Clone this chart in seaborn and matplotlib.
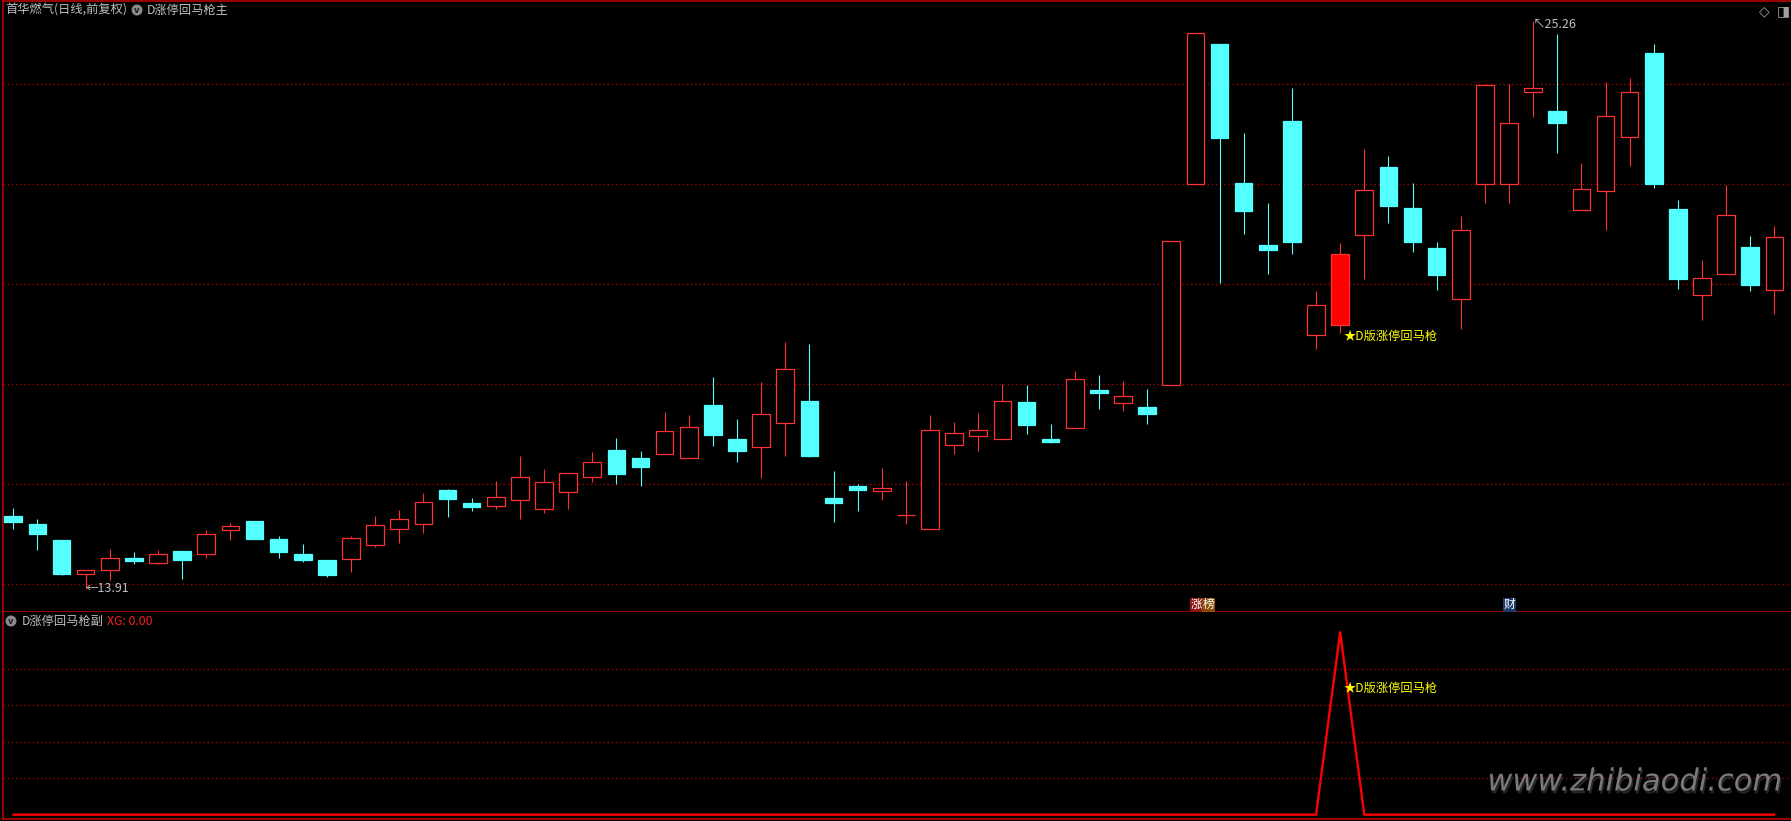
# -*- coding: utf-8 -*-
"""
Daily candlestick chart (首华燃气) with the D涨停回马枪 signal panel underneath.
"""

import numpy as np
import pandas as pd
import matplotlib
matplotlib.use("Agg")
import matplotlib.pyplot as plt
import matplotlib.patheffects as pe
from matplotlib.patches import Ellipse
import seaborn as sns

W, H = 1791, 821

# daily OHLC (74 sessions)
OPEN = [15.37, 15.21, 14.89, 14.21, 14.28, 14.53, 14.43, 14.67, 14.60, 15.08,
        15.27, 14.91, 14.61, 14.49, 14.50, 14.79, 15.11, 15.20, 15.89, 15.63,
        15.56, 15.68, 15.50, 15.85, 16.14, 16.69, 16.53, 16.60, 16.52, 17.59,
        16.91, 16.74, 17.22, 17.67, 15.73, 15.97, 15.87, 15.38, 15.11, 16.79,
        16.97, 16.91, 17.65, 16.91, 17.13, 17.89, 17.63, 17.55, 17.98, 22.00,
        24.79, 22.01, 20.77, 23.25, 18.99, 19.19, 20.97, 22.33, 21.51, 20.73,
        19.71, 21.99, 21.99, 23.84, 23.45, 21.48, 21.86, 22.94, 24.61, 21.49,
        19.78, 20.20, 20.75, 19.88]
HIGH = [15.53, 15.31, 14.89, 14.29, 14.71, 14.65, 14.69, 14.67, 15.09, 15.23,
        15.27, 14.97, 14.81, 14.49, 14.97, 15.37, 15.49, 15.83, 15.91, 15.73,
        16.07, 16.57, 16.31, 16.22, 16.65, 16.93, 16.67, 17.45, 17.39, 18.15,
        17.31, 18.05, 18.85, 18.81, 16.27, 16.01, 16.33, 16.07, 17.39, 17.25,
        17.43, 18.00, 17.99, 17.21, 18.27, 18.19, 18.07, 17.91, 20.86, 25.02,
        24.79, 23.01, 21.61, 23.91, 19.87, 20.81, 22.69, 22.55, 22.01, 20.83,
        21.35, 23.99, 23.99, 25.26, 24.99, 22.41, 24.03, 24.11, 24.80, 21.67,
        20.49, 21.97, 20.95, 21.15]
LOW = [15.11, 14.69, 14.19, 13.91, 14.09, 14.41, 14.41, 14.11, 14.53, 14.89,
       14.91, 14.53, 14.45, 14.15, 14.25, 14.75, 14.83, 15.03, 15.35, 15.47,
       15.51, 15.31, 15.43, 15.51, 16.05, 16.01, 15.97, 16.60, 16.52, 16.77,
       16.45, 16.13, 16.57, 16.55, 15.25, 15.47, 15.69, 15.21, 15.11, 16.61,
       16.67, 16.91, 17.01, 16.83, 17.13, 17.51, 17.47, 17.21, 17.98, 22.00,
       20.03, 20.99, 20.21, 20.61, 18.71, 19.03, 20.11, 21.21, 20.65, 19.89,
       19.11, 21.61, 21.61, 23.33, 22.61, 21.48, 21.07, 22.35, 21.91, 19.91,
       19.29, 20.20, 19.87, 19.41]
CLOSE = [15.25, 15.01, 14.21, 14.29, 14.52, 14.47, 14.60, 14.49, 15.00, 15.16,
         14.91, 14.65, 14.49, 14.19, 14.92, 15.18, 15.30, 15.64, 15.71, 15.55,
         15.74, 16.14, 16.04, 16.22, 16.44, 16.21, 16.35, 17.06, 17.14, 16.99,
         16.67, 17.40, 18.30, 16.57, 15.63, 15.89, 15.92, 15.38, 17.08, 17.02,
         17.08, 17.66, 17.19, 16.85, 18.10, 17.83, 17.76, 17.41, 20.86, 25.02,
         22.91, 21.45, 20.69, 20.83, 19.58, 20.61, 21.88, 21.55, 20.83, 20.19,
         21.08, 23.97, 23.22, 23.92, 23.21, 21.90, 23.36, 23.84, 21.99, 20.11,
         20.12, 21.38, 19.99, 20.94]
# XG signal of the sub-indicator
XG = [0, 0, 0, 0, 0, 0, 0, 0, 0, 0, 0, 0, 0, 0, 0, 0, 0, 0, 0, 0,
      0, 0, 0, 0, 0, 0, 0, 0, 0, 0, 0, 0, 0, 0, 0, 0, 0, 0, 0, 0,
      0, 0, 0, 0, 0, 0, 0, 0, 0, 0, 0, 0, 0, 0, 0, 1, 0, 0, 0, 0,
      0, 0, 0, 0, 0, 0, 0, 0, 0, 0, 0, 0, 0, 0]

PRICE_GRID = [14, 16, 18, 20, 22, 24]
XG_GRID = [0.2, 0.4, 0.6, 0.8]

UP = "#ff3232"
DOWN = "#54ffff"
GRID = "#a00000"
FRAME = "#c80000"
LABEL = "#c0c0c0"
YELLOW = "#ffff00"


def fx(px):
    return px / W


def fy(py):
    return 1 - py / H


sns.set_theme(style="dark", rc={"axes.facecolor": "black", "figure.facecolor": "black"})
plt.rcParams["font.family"] = ["Noto Sans CJK SC", "DejaVu Sans"]

df = pd.DataFrame({"open": OPEN, "high": HIGH, "low": LOW, "close": CLOSE, "xg": XG})
df["x"] = np.arange(len(df))
sig = int(np.argmax(XG))

fig = plt.figure(figsize=(W / 100, H / 100), dpi=100, facecolor="black")
ax1 = fig.add_axes([fx(2.7), fy(612), 1 - fx(2.7), (612 - 1.5) / H])
ax2 = fig.add_axes([fx(2.7), fy(819), 1 - fx(2.7), (819 - 612) / H])

x_lo, x_hi = (2.7 - 13.3) / 24.125, (W - 13.3) / 24.125
for ax in (ax1, ax2):
    ax.set_facecolor("black")
    ax.set_xlim(x_lo, x_hi)
    ax.tick_params(left=False, bottom=False, labelleft=False, labelbottom=False)
    ax.xaxis.grid(False)
    ax.yaxis.grid(True, color=GRID, linestyle=(0, (1, 2)), linewidth=1.0)
    for s in ax.spines.values():
        s.set_color(FRAME)
        s.set_linewidth(1.1)
    ax.spines["right"].set_visible(False)
ax2.spines["top"].set_visible(False)

# ---- main panel: candles
ax1.set_ylim(13.446, 25.646)
ax1.set_yticks(PRICE_GRID)
up = (df["close"] >= df["open"]).to_numpy()
edge = np.where(up, UP, DOWN)
face = np.where(up, "black", DOWN).astype(object)
face[sig] = "#ff0000"
ax1.vlines(df["x"], df["low"], df["high"], colors=edge, linewidth=0.8, zorder=2)
ax1.bar(df["x"], (df["close"] - df["open"]).abs(),
        bottom=df[["open", "close"]].min(axis=1), width=0.73,
        color=list(face), edgecolor=list(edge), linewidth=0.9, zorder=3)

lo_i = int(df["low"].idxmin())
hi_i = int(df["high"].idxmax())
ax1.text(lo_i - 0.02, df["low"][lo_i], "←" + f"{df['low'][lo_i]:.2f}", color=LABEL,
         fontsize=9, ha="left", va="center", zorder=5)
ax1.text(hi_i - 0.02, df["high"][hi_i] + 0.05, "↖" + f"{df['high'][hi_i]:.2f}", color=LABEL,
         fontsize=9, ha="left", va="top", zorder=5)
ax1.text(sig + 0.15, df["low"][sig] - 0.07, "★D版涨停回马枪", color=YELLOW,
         fontsize=8.8, ha="left", va="center", zorder=5)

# event markers along the bottom of the price panel
ax1.text(49.03, 13.59, "涨", color="white", fontsize=8.5, ha="center", va="center",
         bbox=dict(boxstyle="square,pad=0.05", fc="#8b1414", ec="none"))
ax1.text(49.55, 13.59, "榜", color="white", fontsize=8.5, ha="center", va="center",
         bbox=dict(boxstyle="square,pad=0.05", fc="#8b4a08", ec="none"))
ax1.text(62.0, 13.59, "财", color="white", fontsize=8.5, ha="center", va="center",
         bbox=dict(boxstyle="square,pad=0.05", fc="#1c3c6c", ec="none"))

# ---- sub panel: XG line
sns.lineplot(data=df, x="x", y="xg", ax=ax2, color="#ff0000", linewidth=1.7)
ax2.set_xlabel("")
ax2.set_ylabel("")
ax2.set_ylim(-0.0236, 1.111)
ax2.set_yticks(XG_GRID)
ax2.set_xlim(x_lo, x_hi)
ax2.text(sig + 0.15, 0.69, "★D版涨停回马枪", color=YELLOW, fontsize=8.8,
         ha="left", va="center", zorder=5)

# ---- headers
fig.text(fx(5), fy(10), "首华燃气(日线,前复权)", color=LABEL, fontsize=8.8, ha="left", va="center")
fig.text(fx(147), fy(10), "D涨停回马枪主", color=LABEL, fontsize=8.8, ha="left", va="center")
fig.text(fx(22), fy(621), "D涨停回马枪副", color=LABEL, fontsize=8.8, ha="left", va="center")
fig.text(fx(107), fy(621), "XG: 0.00", color="#ff2020", fontsize=8.8, ha="left", va="center")
for cx, cy in [(137, 10), (11, 621)]:
    fig.add_artist(Ellipse((fx(cx), fy(cy)), 11 / W, 11 / H, transform=fig.transFigure,
                           fc="#8a8a8a", ec="none"))
    fig.text(fx(cx), fy(cy + 0.5), "v", color="#202020", fontsize=6, ha="center",
             va="center", family="DejaVu Sans", fontweight="bold")
fig.text(fx(1764), fy(11), "◇", color="#a0a0a0", fontsize=10, ha="center", va="center",
         family="DejaVu Sans")
fig.text(fx(1783), fy(11), "◨", color="#a0a0a0", fontsize=10, ha="center", va="center",
         family="DejaVu Sans")

# watermark
fig.text(fx(1782), fy(782), "www.zhibiaodi.com", color="#7a7a7a", fontsize=22,
         style="italic", family="DejaVu Sans", ha="right", va="center",
         path_effects=[pe.withSimplePatchShadow(offset=(1, -2), shadow_rgbFace="#303030", alpha=0.8)])

fig.savefig("out.png", dpi=100, facecolor="black")
plt.close(fig)
